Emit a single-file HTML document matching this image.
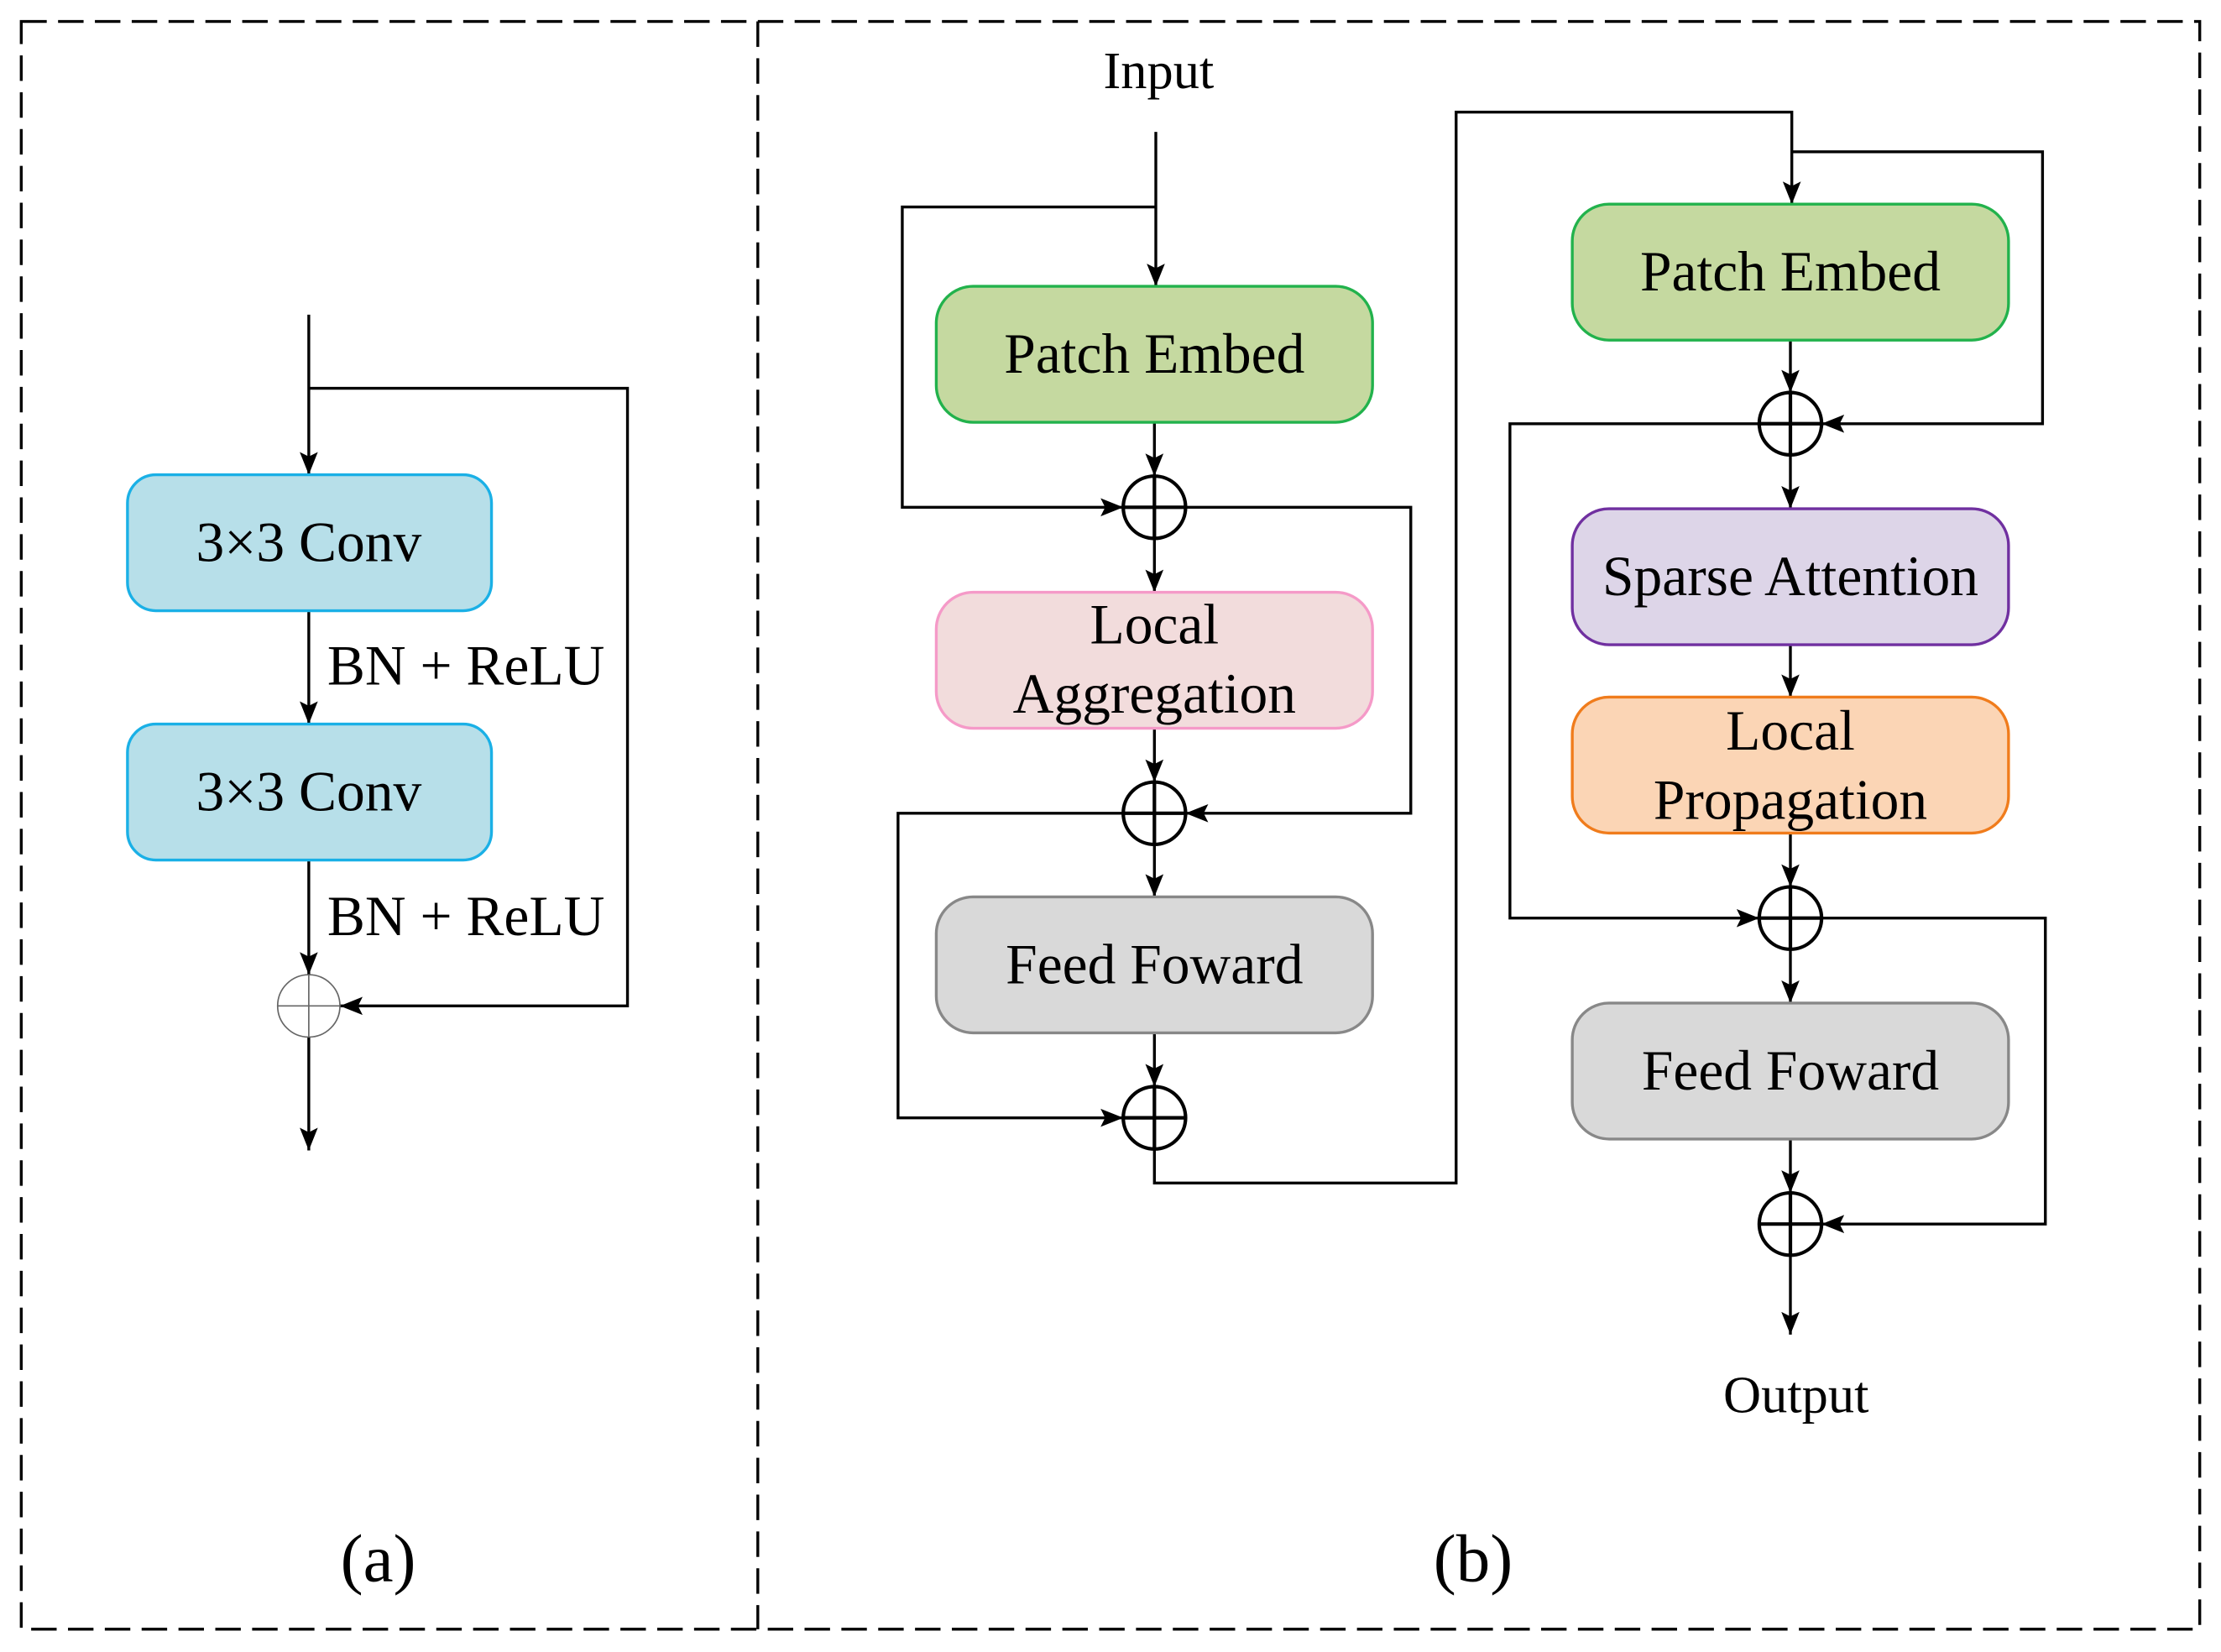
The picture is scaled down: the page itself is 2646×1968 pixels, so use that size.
<!DOCTYPE html>
<html><head><meta charset="utf-8"><style>
html,body{margin:0;padding:0;background:#fff;}
svg{display:block;}
text{font-family:"Liberation Serif",serif;fill:#000;}
</style></head><body>
<svg width="2646" height="1968" viewBox="0 0 1568 1166" xmlns="http://www.w3.org/2000/svg">
<defs>
<marker id="b" viewBox="0 0 10 10" refX="10" refY="5" markerWidth="16" markerHeight="16" markerUnits="userSpaceOnUse" orient="auto">
<path d="M0,1 L10,5 L0,9 L2,5 z" fill="#000"/></marker>
</defs>
<g fill="none" stroke="#000" stroke-width="2" stroke-dasharray="18,8">
<rect x="15" y="15" width="1538" height="1135"/>
<line x1="535" y1="15" x2="535" y2="1150"/>
</g>
<g fill="none" stroke="#000" stroke-width="2">
<line x1="218" y1="222" x2="218" y2="335" marker-end="url(#b)"/>
<polyline points="218,274 443,274 443,710 240,710" marker-end="url(#b)"/>
<line x1="218" y1="431" x2="218" y2="511" marker-end="url(#b)"/>
<line x1="218" y1="607" x2="218" y2="688" marker-end="url(#b)"/>
<line x1="218" y1="732" x2="218" y2="812" marker-end="url(#b)"/>
<line x1="816" y1="93" x2="816" y2="202" marker-end="url(#b)"/>
<polyline points="816,146 637,146 637,358 793,358" marker-end="url(#b)"/>
<line x1="815" y1="298" x2="815" y2="336" marker-end="url(#b)"/>
<polyline points="837,358 996,358 996,574 837,574" marker-end="url(#b)"/>
<line x1="815" y1="380" x2="815" y2="418" marker-end="url(#b)"/>
<line x1="815" y1="514" x2="815" y2="552" marker-end="url(#b)"/>
<polyline points="793,574 634,574 634,789 793,789" marker-end="url(#b)"/>
<line x1="815" y1="596" x2="815" y2="633" marker-end="url(#b)"/>
<line x1="815" y1="729" x2="815" y2="767" marker-end="url(#b)"/>
<polyline points="815,811 815,835 1028,835 1028,79 1265,79 1265,144" marker-end="url(#b)"/>
<polyline points="1265,107 1442,107 1442,299 1286,299" marker-end="url(#b)"/>
<line x1="1264" y1="240" x2="1264" y2="277" marker-end="url(#b)"/>
<polyline points="1242,299 1066,299 1066,648 1242,648" marker-end="url(#b)"/>
<line x1="1264" y1="321" x2="1264" y2="359" marker-end="url(#b)"/>
<line x1="1264" y1="455" x2="1264" y2="492" marker-end="url(#b)"/>
<line x1="1264" y1="588" x2="1264" y2="626" marker-end="url(#b)"/>
<polyline points="1286,648 1444,648 1444,864 1286,864" marker-end="url(#b)"/>
<line x1="1264" y1="670" x2="1264" y2="708" marker-end="url(#b)"/>
<line x1="1264" y1="804" x2="1264" y2="842" marker-end="url(#b)"/>
<line x1="1264" y1="886" x2="1264" y2="942" marker-end="url(#b)"/>
</g>
<g stroke-width="2">
<rect x="90" y="335" width="257" height="96" rx="20" fill="#b7dfe9" stroke="#1ab0e6"/>
<rect x="90" y="511" width="257" height="96" rx="20" fill="#b7dfe9" stroke="#1ab0e6"/>
<rect x="661" y="202" width="308" height="96" rx="26" fill="#c5d9a0" stroke="#22b24c"/>
<rect x="661" y="418" width="308" height="96" rx="26" fill="#f2dcdc" stroke="#f59ac8"/>
<rect x="661" y="633" width="308" height="96" rx="26" fill="#d9d9d9" stroke="#888"/>
<rect x="1110" y="144" width="308" height="96" rx="26" fill="#c5d9a0" stroke="#22b24c"/>
<rect x="1110" y="359" width="308" height="96" rx="26" fill="#ddd5e8" stroke="#7030a0"/>
<rect x="1110" y="492" width="308" height="96" rx="26" fill="#fbd5b5" stroke="#f07c1c"/>
<rect x="1110" y="708" width="308" height="96" rx="26" fill="#d9d9d9" stroke="#888"/>
</g>
<g fill="#fff" stroke="#000" stroke-width="2.5">
<g><circle cx="815" cy="358" r="22"/><path d="M793,358h44M815,336v44"/></g>
<g><circle cx="815" cy="574" r="22"/><path d="M793,574h44M815,552v44"/></g>
<g><circle cx="815" cy="789" r="22"/><path d="M793,789h44M815,767v44"/></g>
<g><circle cx="1264" cy="299" r="22"/><path d="M1242,299h44M1264,277v44"/></g>
<g><circle cx="1264" cy="648" r="22"/><path d="M1242,648h44M1264,626v44"/></g>
<g><circle cx="1264" cy="864" r="22"/><path d="M1242,864h44M1264,842v44"/></g>
</g>
<g fill="#fff" stroke="#666" stroke-width="1">
<circle cx="218" cy="710" r="22"/><path d="M196,710h44M218,688v44"/>
</g>
<g font-size="40" text-anchor="middle">
<text x="218" y="396">3×3 Conv</text>
<text x="218" y="572">3×3 Conv</text>
<text x="815" y="263">Patch Embed</text>
<text x="815" y="454">Local</text>
<text x="815" y="503">Aggregation</text>
<text x="815" y="694">Feed Foward</text>
<text x="1264" y="205">Patch Embed</text>
<text x="1264" y="420">Sparse Attention</text>
<text x="1264" y="529">Local</text>
<text x="1264" y="578">Propagation</text>
<text x="1264" y="769">Feed Foward</text>
<text x="818" y="62" font-size="37">Input</text>
<text x="1268" y="997" font-size="37">Output</text>
<text x="267" y="1116" font-size="48">(a)</text>
<text x="1040" y="1116" font-size="48">(b)</text>
</g>
<text x="231" y="483" font-size="40">BN + ReLU</text>
<text x="231" y="660" font-size="40">BN + ReLU</text>
</svg>
</body></html>
